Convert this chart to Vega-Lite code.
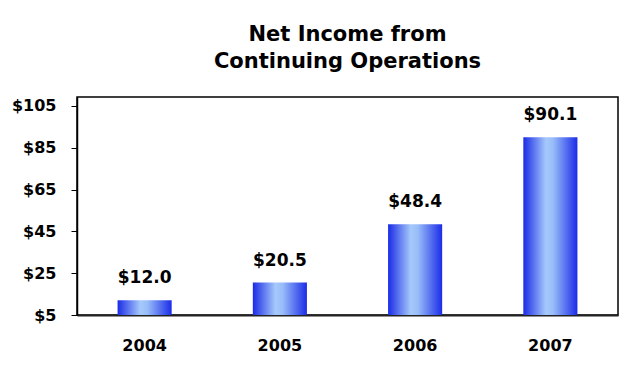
{
  "$schema": "https://vega.github.io/schema/vega-lite/v6.json",
  "autosize": "none",
  "width": 541,
  "height": 218,
  "padding": {"left": 77, "top": 97, "right": 8, "bottom": 53},
  "background": "white",
  "config": {
    "view": {"stroke": "#000000", "strokeWidth": 1.5},
    "font": "DejaVu Sans"
  },
  "title": {
    "text": ["Net Income from", "Continuing Operations"],
    "font": "DejaVu Sans",
    "fontSize": 21,
    "fontWeight": "bold",
    "color": "#000000",
    "lineHeight": 27,
    "baseline": "alphabetic",
    "anchor": "middle",
    "frame": "group",
    "offset": 8
  },
  "data": {
    "values": [
      {"year": "2004", "income": 12.0},
      {"year": "2005", "income": 20.5},
      {"year": "2006", "income": 48.4},
      {"year": "2007", "income": 90.1}
    ]
  },
  "encoding": {
    "x": {
      "field": "year",
      "type": "nominal",
      "sort": null,
      "scale": {"paddingInner": 0.6, "paddingOuter": 0.3},
      "axis": {
        "title": null,
        "labelAngle": 0,
        "labelFont": "DejaVu Sans",
        "labelFontSize": 16,
        "labelFontWeight": "bold",
        "labelColor": "#000000",
        "ticks": false,
        "tickSize": 0,
        "labelPadding": 22,
        "domainColor": "#222222",
        "domainWidth": 2
      }
    },
    "y": {
      "field": "income",
      "type": "quantitative",
      "scale": {"domain": [5, 109.3], "nice": false, "zero": false},
      "axis": {
        "title": null,
        "values": [5, 25, 45, 65, 85, 105],
        "format": "$d",
        "labelFont": "DejaVu Sans",
        "labelFontSize": 16,
        "labelFontWeight": "bold",
        "labelColor": "#000000",
        "tickSize": 6,
        "tickColor": "#000000",
        "labelPadding": 15,
        "domainColor": "#000000",
        "domainWidth": 1.5,
        "grid": false
      }
    }
  },
  "layer": [
    {
      "mark": {
        "type": "bar",
        "color": {
          "gradient": "linear",
          "x1": 0, "x2": 1, "y1": 0, "y2": 0,
          "stops": [
            {"offset": 0, "color": "#1a2be6"},
            {"offset": 0.42, "color": "#a6c9fb"},
            {"offset": 0.55, "color": "#98bdf9"},
            {"offset": 1, "color": "#1b2ce8"}
          ]
        }
      },
      "encoding": {"y2": {"datum": 5}}
    },
    {
      "mark": {
        "type": "text",
        "baseline": "alphabetic",
        "dy": -17,
        "font": "DejaVu Sans",
        "fontSize": 17,
        "fontWeight": "bold",
        "color": "#000000"
      },
      "encoding": {"text": {"field": "income", "type": "quantitative", "format": "$.1f"}}
    }
  ]
}
